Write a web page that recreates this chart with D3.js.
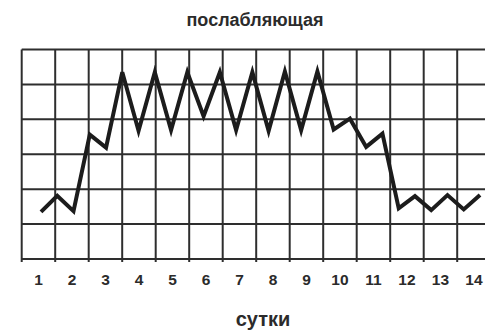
<!DOCTYPE html>
<html>
<head>
<meta charset="utf-8">
<script src="https://cdn.jsdelivr.net/npm/d3@7"></script>
<style>
  html, body { margin: 0; padding: 0; background: #fff; }
  svg { display: block; }
  text { font-family: Arial, "Liberation Sans", sans-serif; font-weight: bold; fill: #2b2b2b; }
</style>
</head>
<body>
<script>
// ---- data ----
const title = "послабляющая";
const xTitle = "сутки";
const dayLabels = ["1","2","3","4","5","6","7","8","9","10","11","12","13","14"];
const gridRows = [0, 1, 2, 3, 4, 5, 6];
// time in days (half-day steps) and value in grid units
const times = [0.5,1,1.5,2,2.5,3,3.5,4,4.5,5,5.5,6,6.5,7,7.5,8,8.5,9,9.5,10,10.5,11,11.5,12,12.5,13,13.5,14];
const values = [1.35,1.81,1.37,3.56,3.19,5.35,3.67,5.35,3.69,5.35,4.09,5.35,3.69,5.35,3.67,5.37,3.69,5.37,3.71,4.02,3.21,3.59,1.45,1.80,1.40,1.83,1.42,1.83];

// ---- chart ----
const W = 485, H = 330;
const svg = d3.select("body").append("svg").attr("width", W).attr("height", H);

const xGrid = d3.scaleLinear().domain([0, 14]).range([21.7, 490.7]);
const xBand = d3.scaleBand().domain(dayLabels).range([21.7, 490.7]);
const xLine = d3.scaleLinear().domain([0.5, 14]).range([41, 480]);
const y = d3.scaleLinear().domain([0, 6]).range([259, 49.5]);

const grid = svg.append("g").attr("stroke", "#2e2e2e").attr("stroke-width", 2);
grid.selectAll("line.h").data(gridRows).join("line")
  .attr("class", "h")
  .attr("x1", xGrid(0)).attr("x2", xGrid(14))
  .attr("y1", d => y(d)).attr("y2", d => y(d));
grid.selectAll("line.v").data(d3.range(0, 15)).join("line")
  .attr("class", "v")
  .attr("x1", d => xGrid(d)).attr("x2", d => xGrid(d))
  .attr("y1", y(6)).attr("y2", y(0) + 3);

const pts = times.map((t, i) => [t, values[i]]);
svg.append("path")
  .datum(pts)
  .attr("fill", "none")
  .attr("stroke", "#1c1c1c")
  .attr("stroke-width", 4)
  .attr("stroke-linejoin", "miter")
  .attr("stroke-miterlimit", 4)
  .attr("d", d3.line().x(d => xLine(d[0])).y(d => y(d[1])));

svg.append("g").selectAll("text").data(dayLabels).join("text")
  .attr("x", d => xBand(d) + xBand.bandwidth() / 2)
  .attr("y", 285)
  .attr("text-anchor", "middle")
  .attr("font-size", 15.5)
  .text(d => d);

svg.append("text")
  .attr("x", 255).attr("y", 26)
  .attr("text-anchor", "middle")
  .attr("font-size", 18)
  .text(title);

svg.append("text")
  .attr("x", 263).attr("y", 326)
  .attr("text-anchor", "middle")
  .attr("font-size", 20)
  .text(xTitle);
</script>
</body>
</html>
